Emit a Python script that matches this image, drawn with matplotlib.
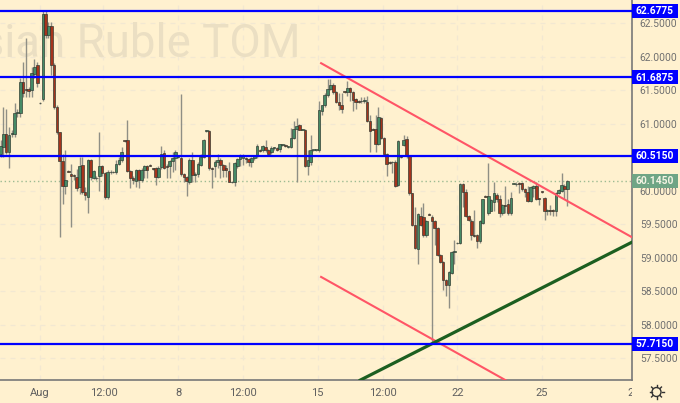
import numpy as np
import matplotlib
matplotlib.use("Agg")
import matplotlib.pyplot as plt
from matplotlib.patches import Rectangle
from matplotlib.lines import Line2D

opens = [
    60.55, 60.65, 60.85, 60.58, 60.84, 60.85, 61.15, 61.15, 61.62, 61.51,
    61.52, 61.50, 61.74, 61.87, 61.31, 61.37, 62.63, 62.32, 62.45, 61.87,
    61.25, 60.87, 60.44, 60.06, 60.29, 60.25, 60.23, 60.20, 60.05, 60.38,
    59.98, 59.91, 60.45, 60.19, 60.19, 60.21, 60.36, 60.26, 59.90, 60.28,
    60.27, 60.27, 60.40, 60.46, 60.75, 60.75, 60.29, 60.19, 60.14, 60.30,
    60.15, 60.31, 60.36, 60.38, 60.33, 60.33, 60.20, 60.35, 60.56, 60.36,
    60.36, 60.44, 60.49, 60.50, 60.48, 60.24, 60.20, 60.13, 60.45, 60.23,
    60.24, 60.38, 60.50, 60.89, 60.89, 60.33, 60.36, 60.42, 60.46, 60.38,
    60.33, 60.29, 60.13, 60.12, 60.37, 60.47, 60.48, 60.48, 60.47, 60.43,
    60.48, 60.51, 60.60, 60.60, 60.65, 60.60, 60.57, 60.63, 60.64, 60.62,
    60.68, 60.68, 60.65, 60.65, 60.79, 60.92, 60.98, 60.91, 60.91, 60.36,
    60.43, 60.60, 60.60, 60.60, 61.19, 61.27, 61.43, 61.52, 61.58, 61.47,
    61.32, 61.27, 61.48, 61.47, 61.53, 61.47, 61.36, 61.33, 61.34, 61.33,
    61.32, 61.03, 60.92, 60.92, 60.70, 61.08, 60.79, 60.55, 60.42, 60.43,
    60.43, 60.08, 60.51, 60.68, 60.77, 60.51, 59.96, 59.49, 59.12, 59.62,
    59.61, 59.33, 59.65, 59.61, 59.55, 59.44, 59.04, 58.94, 58.67, 58.59,
    58.77, 59.08, 59.22, 59.22, 60.10, 59.98, 59.62, 59.55, 59.33, 59.33,
    59.24, 59.52, 59.92, 59.66, 59.70, 59.83, 59.94, 59.87, 59.67, 59.78,
    59.80, 59.66, 60.10, 60.10, 60.11, 60.11, 60.02, 59.98, 59.85, 60.03,
    60.07, 59.88, 59.99, 59.89, 59.69, 59.70, 59.70, 59.69, 59.97, 60.00,
    60.07, 60.02,
]
highs = [
    60.75, 61.25, 61.22, 60.95, 60.90, 61.30, 61.22, 61.68, 61.92, 62.27,
    61.55, 61.85, 61.97, 61.92, 61.32, 62.68, 62.70, 62.52, 62.52, 61.90,
    61.27, 60.88, 60.55, 60.60, 60.30, 60.40, 60.25, 60.32, 60.50, 60.50,
    60.05, 60.47, 60.47, 60.30, 60.22, 60.88, 60.38, 60.28, 60.30, 60.30,
    60.29, 60.45, 60.50, 60.65, 60.76, 61.05, 60.30, 60.22, 60.32, 60.32,
    60.33, 60.38, 60.38, 60.39, 60.34, 60.35, 60.36, 60.67, 60.61, 60.40,
    60.46, 60.58, 60.60, 60.52, 61.44, 60.26, 60.22, 60.48, 60.58, 60.27,
    60.42, 60.55, 60.77, 60.90, 60.90, 60.35, 60.46, 60.55, 60.48, 60.40,
    60.38, 60.43, 60.14, 60.43, 60.48, 60.55, 60.54, 60.50, 60.49, 60.50,
    60.53, 60.69, 60.62, 60.68, 60.75, 60.62, 60.66, 60.65, 60.65, 60.70,
    60.70, 60.69, 60.66, 60.93, 61.03, 61.08, 60.99, 60.92, 60.92, 60.60,
    60.83, 60.61, 60.61, 61.34, 61.28, 61.45, 61.67, 61.67, 61.60, 61.48,
    61.45, 61.45, 61.49, 61.64, 61.55, 61.48, 61.38, 61.35, 61.40, 61.40,
    61.41, 61.13, 60.94, 61.13, 61.25, 61.10, 60.80, 60.56, 60.44, 60.44,
    60.45, 60.76, 60.52, 60.83, 60.81, 60.52, 59.97, 59.76, 59.67, 59.76,
    59.81, 59.56, 59.66, 59.63, 59.56, 59.45, 59.05, 58.95, 58.68, 58.80,
    59.09, 59.26, 59.23, 60.11, 60.11, 60.02, 59.64, 59.57, 59.71, 59.35,
    59.56, 59.88, 59.93, 60.41, 59.88, 60.13, 59.96, 59.93, 59.80, 60.06,
    59.88, 59.98, 60.11, 60.13, 60.12, 60.13, 60.03, 60.06, 60.06, 60.08,
    60.12, 59.89, 60.00, 59.91, 59.72, 59.78, 59.72, 59.98, 60.02, 60.26,
    60.09, 60.16,
]
lows = [
    60.50, 60.50, 60.55, 60.33, 60.80, 60.80, 61.10, 61.10, 61.40, 61.40,
    61.40, 61.40, 61.68, 61.55, 61.29, 61.33, 62.28, 62.28, 61.72, 61.22,
    60.85, 59.30, 59.80, 59.95, 60.27, 59.46, 60.15, 60.00, 59.95, 59.95,
    59.86, 59.66, 60.15, 60.17, 60.16, 60.00, 60.22, 59.88, 59.88, 60.25,
    60.26, 60.25, 60.38, 60.42, 60.73, 60.27, 60.03, 60.10, 60.05, 60.03,
    60.12, 60.18, 60.18, 60.36, 60.30, 60.08, 60.18, 60.32, 60.32, 60.18,
    60.18, 60.28, 60.30, 60.48, 60.22, 60.13, 59.92, 60.10, 60.13, 60.13,
    60.20, 60.36, 60.48, 60.88, 60.31, 60.03, 60.20, 60.33, 60.18, 60.20,
    60.20, 60.12, 60.11, 60.07, 60.33, 60.37, 60.38, 60.41, 60.36, 60.35,
    60.45, 60.49, 60.58, 60.57, 60.57, 60.54, 60.54, 60.60, 60.59, 60.58,
    60.66, 60.65, 60.64, 60.64, 60.77, 60.12, 60.90, 60.90, 60.35, 60.23,
    60.38, 60.59, 60.59, 60.58, 61.13, 61.25, 61.40, 61.50, 61.44, 61.30,
    61.20, 61.15, 61.46, 61.41, 61.33, 61.18, 61.21, 61.30, 61.31, 61.30,
    61.02, 60.58, 60.90, 60.58, 60.68, 60.77, 60.53, 60.22, 60.40, 60.26,
    60.05, 60.06, 60.49, 60.66, 60.49, 59.94, 59.47, 59.12, 58.90, 59.47,
    59.30, 59.31, 59.63, 57.72, 59.19, 59.02, 58.92, 58.52, 58.43, 58.25,
    58.75, 58.91, 59.20, 59.20, 59.76, 59.60, 59.54, 59.26, 59.31, 59.14,
    59.22, 59.50, 59.90, 59.64, 59.70, 59.69, 59.83, 59.61, 59.63, 59.66,
    59.64, 59.64, 60.09, 60.06, 59.96, 60.00, 59.91, 59.83, 59.83, 59.91,
    59.86, 59.78, 59.97, 59.56, 59.63, 59.63, 59.62, 59.62, 59.95, 59.98,
    59.88, 59.77,
]
closes = [
    60.66, 60.85, 60.58, 60.83, 60.85, 61.15, 61.17, 61.62, 61.46, 61.50,
    61.49, 61.75, 61.85, 61.61, 61.30, 62.63, 62.32, 62.45, 61.87, 61.25,
    60.87, 60.44, 60.06, 60.16, 60.28, 60.21, 60.22, 60.04, 60.36, 59.98,
    59.93, 60.45, 60.20, 60.29, 60.18, 60.36, 60.26, 59.90, 60.28, 60.27,
    60.28, 60.40, 60.46, 60.58, 60.74, 60.29, 60.19, 60.15, 60.30, 60.15,
    60.30, 60.36, 60.30, 60.37, 60.32, 60.20, 60.34, 60.55, 60.34, 60.35,
    60.44, 60.49, 60.58, 60.50, 60.24, 60.20, 60.14, 60.46, 60.23, 60.25,
    60.40, 60.50, 60.75, 60.89, 60.33, 60.32, 60.43, 60.46, 60.38, 60.30,
    60.31, 60.13, 60.12, 60.41, 60.47, 60.53, 60.52, 60.47, 60.43, 60.48,
    60.52, 60.67, 60.59, 60.66, 60.60, 60.55, 60.64, 60.63, 60.61, 60.69,
    60.68, 60.66, 60.65, 60.79, 60.92, 60.97, 60.91, 60.91, 60.36, 60.46,
    60.60, 60.60, 60.60, 61.20, 61.27, 61.43, 61.52, 61.58, 61.47, 61.32,
    61.27, 61.22, 61.47, 61.53, 61.47, 61.35, 61.32, 61.32, 61.33, 61.35,
    61.04, 60.89, 60.91, 60.70, 61.09, 60.79, 60.55, 60.40, 60.41, 60.42,
    60.07, 60.74, 60.50, 60.76, 60.51, 59.96, 59.49, 59.14, 59.65, 59.49,
    59.33, 59.54, 59.64, 59.54, 59.44, 59.04, 58.94, 58.67, 58.59, 58.79,
    59.08, 59.10, 59.21, 60.10, 59.98, 59.62, 59.56, 59.33, 59.32, 59.24,
    59.54, 59.87, 59.91, 59.92, 59.86, 59.96, 59.87, 59.67, 59.78, 59.77,
    59.66, 59.89, 60.10, 60.09, 60.10, 60.02, 59.98, 59.85, 60.05, 60.07,
    59.88, 59.87, 59.98, 59.69, 59.69, 59.69, 59.69, 59.97, 60.01, 60.08,
    60.02, 60.145,
]

price_ticks = [57.5, 58.0, 58.5, 59.0, 59.5, 60.0, 60.5, 61.0, 61.5, 62.0, 62.5]
level_prices = [62.6775, 61.6875, 60.515, 57.715]
last_price = 60.145
time_ticks = [14, 36.5, 63, 86, 112.5, 135.5, 162, 192, 223.5]
time_labels = ["Aug", "12:00", "8", "12:00", "15", "12:00", "22", "25", "2"]

resist_x = [113.7, 224.5]
resist_y = [61.90, 59.29]
channel_x = [113.7, 224.5]
channel_y = [58.71, 56.10]
support_x = [127.6, 224.5]
support_y = [57.17, 59.24]

BG = "#fff1cf"
UP = "#468a66"
DOWN = "#a5341d"
BLUE = "#0000ff"
PINK = "#ff5566"
FONT = ["Roboto", "DejaVu Sans"]

n = min(len(opens), len(highs), len(lows), len(closes))
idx = np.arange(n)
o = np.array(opens[:n])
h = np.array(highs[:n])
l = np.array(lows[:n])
c = np.array(closes[:n])

fig = plt.figure(figsize=(6.8, 4.03), dpi=100, facecolor=BG)
ax = fig.add_axes([0, 23 / 403, 631.5 / 680, 380 / 403], facecolor=BG)
ax.set_xlim(-0.2, 223.8)
ax.set_ylim(62.5 - 357 / 67, 62.5 + 23 / 67)

# grid
for t in time_ticks:
    ax.axvline(t, color="#f2e8d2", lw=0.9, ls=(0, (4, 4)), zorder=1)
for p in price_ticks:
    ax.axhline(p, color="#f2e8d2", lw=0.9, ls=(0, (4, 4)), zorder=1)

ax.text(300 / 631.5, 1 - 57 / 380, "Russian Ruble TOM", transform=ax.transAxes,
        ha="right", va="baseline", fontsize=32.9, color="#ebdfc3", family=FONT,
        zorder=1.5, clip_on=True)

# candles
ax.axhline(last_price, color="#9dbb92", lw=1, ls=(0, (1, 2)), zorder=2)
ax.vlines(idx, l, h, color="#8f8f85", lw=1.0, zorder=3)
colors = [UP if cc >= oo else DOWN for oo, cc in zip(o, c)]
body = np.maximum(np.abs(c - o), 0.012)
ax.bar(idx, body, bottom=np.minimum(o, c), width=0.92, color=colors,
       edgecolor="#2a352c", linewidth=0.45, zorder=4)

# drawn lines
for p in level_prices:
    ax.axhline(p, color=BLUE, lw=1.6, zorder=6)
ax.plot(resist_x, resist_y, color=PINK, lw=1.5, zorder=5)
ax.plot(channel_x, channel_y, color=PINK, lw=1.5, zorder=5)
ax.plot(support_x, support_y, color="#1c5f20", lw=2.3, zorder=5)

ax.spines["top"].set_visible(False)
ax.spines["left"].set_visible(False)
for side in ["right", "bottom"]:
    ax.spines[side].set_color("#787878")
    ax.spines[side].set_linewidth(1.2)

ax.yaxis.tick_right()
ax.set_yticks(price_ticks)
ax.set_yticklabels([f"{p:.4f}" for p in price_ticks], family=FONT, fontsize=7.4, color="#707070")
ax.set_xticks(time_ticks)
ax.set_xticklabels(time_labels, family=FONT, fontsize=8, color="#606060")
ax.tick_params(axis="x", length=0, pad=5.5)
ax.tick_params(axis="y", length=0, pad=6)

# hides the right half of the last time label
ax.add_patch(Rectangle((1.0015, -23 / 380), 48 / 631.5, 22 / 380, transform=ax.transAxes,
                       facecolor=BG, edgecolor="none", clip_on=False, zorder=9))

# price tags
tag_h = 14 / 67
trans = ax.get_yaxis_transform()
for p in level_prices:
    ax.add_patch(Rectangle((1.001, p - tag_h / 2), 45.5 / 631.5, tag_h, transform=trans,
                           facecolor=BLUE, edgecolor="none", clip_on=False, zorder=10))
    ax.text(1 + 23.5 / 631.5, p - 0.005, f"{p:.4f}", transform=trans, ha="center", va="center",
            family=FONT, fontsize=7.4, color="white", fontweight="bold", zorder=11, clip_on=False)
ax.add_patch(Rectangle((1.001, last_price - tag_h / 2), 45.5 / 631.5, tag_h, transform=trans,
                       facecolor="#6fa585", edgecolor="none", clip_on=False, zorder=10))
ax.text(1 + 23.5 / 631.5, last_price - 0.005, f"{last_price:.4f}", transform=trans, ha="center",
        va="center", family=FONT, fontsize=7.4, color="#f4f4e4", fontweight="bold", zorder=11,
        clip_on=False)

# settings icon
cx, cy = 656.5 / 680, 1 - 392 / 403
for a in np.arange(0, 2 * np.pi, np.pi / 4):
    fig.add_artist(Line2D([cx + np.cos(a) * 5 / 680, cx + np.cos(a) * 7 / 680],
                          [cy + np.sin(a) * 5 / 403, cy + np.sin(a) * 7 / 403],
                          color="#333333", lw=1))
fig.add_artist(plt.Circle((656.5, 403 - 392), 4.5, transform=None, fill=False,
                          edgecolor="#333333", lw=1))

fig.savefig("out.png", dpi=100, facecolor=BG)
